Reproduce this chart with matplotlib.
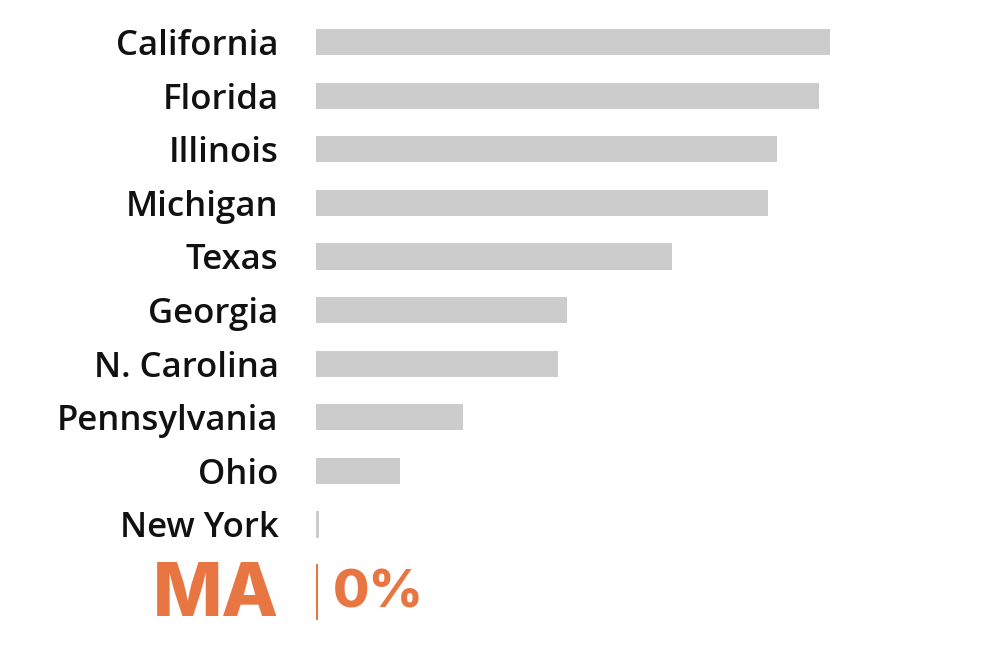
import matplotlib
matplotlib.use("Agg")
import matplotlib.pyplot as plt

states = ["California", "Florida", "Illinois", "Michigan", "Texas",
          "Georgia", "N. Carolina", "Pennsylvania", "Ohio", "New York"]
values = [514, 503, 461, 452, 356, 251, 242, 147, 84, 3]
highlight_label = "MA"
highlight_value = "0%"

plt.rcParams['font.family'] = ['Open Sans', 'DejaVu Sans']

gray = "#cccccc"
orange = "#e87643"

fig = plt.figure(figsize=(10, 6.51), dpi=100)
ax = fig.add_axes([0.316, 0, 0.684, 1])

pos = list(range(len(states)))
ax.barh(pos, values, height=0.49, color=gray)

ax.set_xlim(0, 684)
ax.set_ylim(11.36, -0.784)
ax.set_yticks(pos)
ax.set_yticklabels(states, fontsize=25, fontweight='semibold', color='#111111')
ax.tick_params(axis='y', length=0, pad=27)
ax.set_xticks([])
for s in ax.spines.values():
    s.set_visible(False)

# highlighted row
ax.plot([1, 1], [9.74, 10.78], color=orange, lw=1.5, solid_capstyle='butt')
ax.text(-37, 10.70, highlight_label, ha='right', va='baseline', fontsize=53,
        fontweight='heavy', family='Inter', color=orange)
ax.text(17, 10.55, highlight_value, ha='left', va='baseline', fontsize=38,
        fontweight='heavy', family='Inter', color=orange)

fig.savefig("out.png", dpi=100)
